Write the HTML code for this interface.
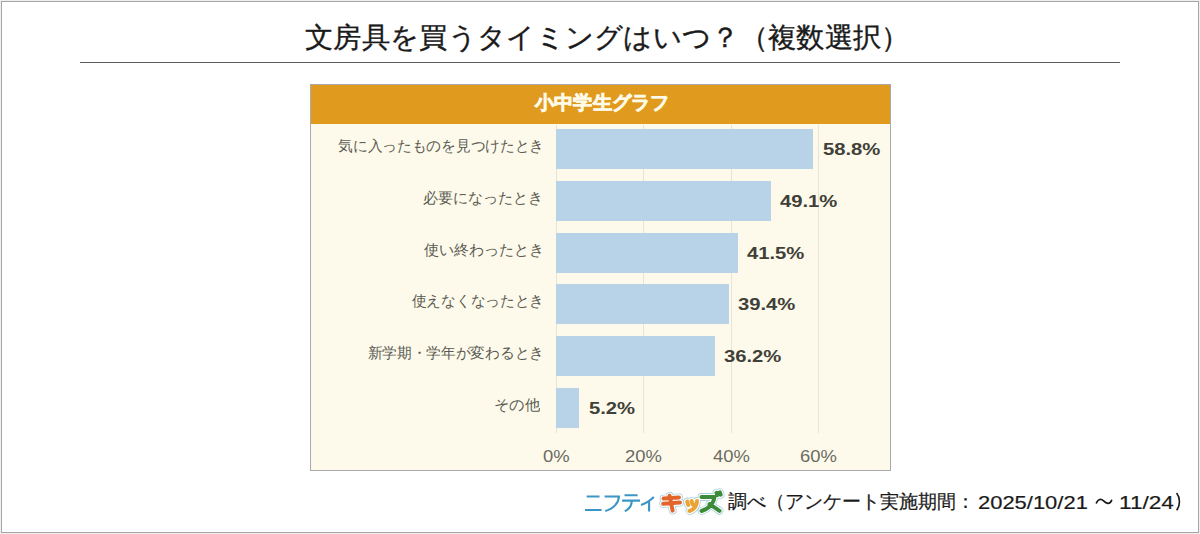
<!DOCTYPE html>
<html><head><meta charset="utf-8">
<style>
html,body{margin:0;padding:0;background:#efefef;}
body{width:1200px;height:534px;position:relative;overflow:hidden;font-family:"Liberation Sans",sans-serif;}
div,span{position:absolute;white-space:nowrap;}
.frame{left:1px;top:1px;width:1198px;height:532px;box-sizing:border-box;border:1px solid #a6a6a6;background:#fff;}
.title{left:305px;top:18px;font-size:28px;line-height:40px;color:#1a1a1a;-webkit-text-stroke:0.35px #1a1a1a;transform:scaleX(1.011);transform-origin:0 0;}
.hr{left:80px;top:62px;width:1040px;height:1px;background:#5c5c5c;}
.chart{left:310px;top:84px;width:581px;height:387px;box-sizing:border-box;border:1px solid #aaa;background:#fdfaeb;}
.head{left:311px;top:85px;width:579px;height:39px;background:#e09b1f;}
.htxt{left:535px;top:83px;color:#fffbea;font-weight:bold;font-size:19px;line-height:40px;-webkit-text-stroke:0.7px #fffbea;transform:scaleX(1.01);transform-origin:0 0;}
.grid{top:125px;width:1px;height:308px;background:#e6e3d7;}
.bar{left:556px;height:40px;background:#b8d2e8;}
.lab{right:661px;font-size:15px;line-height:20px;color:#5a5a52;transform:scaleX(0.98);transform-origin:100% 0;}
.val{font-size:17px;line-height:20px;font-weight:bold;color:#404038;transform:scaleX(1.19);transform-origin:0 0;}
.ax{top:447px;font-size:16px;line-height:20px;color:#6b6b63;transform:scaleX(1.15);transform-origin:0 0;}
.foot{font-size:19px;line-height:24px;color:#1a1a1a;-webkit-text-stroke:0.2px #1a1a1a;transform-origin:0 0;}
</style></head><body>
<div class="frame"></div>
<div class="title">文房具を買うタイミングはいつ？（複数選択）</div>
<div class="hr"></div>
<div class="chart"></div>
<div class="head"></div>
<div class="htxt">小中学生グラフ</div>
<div class="grid" style="left:556px"></div>
<div class="grid" style="left:643px"></div>
<div class="grid" style="left:731px"></div>
<div class="grid" style="left:818px"></div>
<div class="bar" style="top:129px;width:257px"></div>
<div class="bar" style="top:181px;width:215px"></div>
<div class="bar" style="top:233px;width:182px"></div>
<div class="bar" style="top:284px;width:173px"></div>
<div class="bar" style="top:336px;width:159px"></div>
<div class="bar" style="top:388px;width:23px"></div>
<div class="lab" style="top:136px;right:656px">気に入ったものを見つけたとき</div>
<div class="lab" style="top:188px;right:657px;transform:scaleX(1.0)">必要になったとき</div>
<div class="lab" style="top:240px;right:656px;transform:scaleX(1.0)">使い終わったとき</div>
<div class="lab" style="top:291px;right:656px">使えなくなったとき</div>
<div class="lab" style="top:343px;right:656px">新学期・学年が変わるとき</div>
<div class="lab" style="top:395px;right:660px;transform:scaleX(1.02)">その他</div>
<div class="val" style="top:140px;left:823px">58.8%</div>
<div class="val" style="top:192px;left:780px">49.1%</div>
<div class="val" style="top:244px;left:747px">41.5%</div>
<div class="val" style="top:295px;left:738px">39.4%</div>
<div class="val" style="top:347px;left:724px">36.2%</div>
<div class="val" style="top:399px;left:589px">5.2%</div>
<div class="ax" style="left:543px">0%</div>
<div class="ax" style="left:625px">20%</div>
<div class="ax" style="left:713px">40%</div>
<div class="ax" style="left:800px">60%</div>
<div class="foot" style="left:728px;top:490px">調べ（アンケート実施期間：</div>
<div class="foot" style="left:978px;top:491px;transform:scaleX(1.155)">2025/10/21</div>
<div class="foot" style="left:1094px;top:491px;color:transparent;-webkit-text-stroke:0">～</div>
<div class="foot" style="left:1119px;top:491px;transform:scaleX(1.19)">11/24</div>
<div class="foot" style="left:1172px;top:491px;color:transparent;-webkit-text-stroke:0">）</div>
<svg style="position:absolute;left:0;top:0" width="1200" height="534" viewBox="0 0 1200 534">
<path d="M1176.6,493 C1180.2,497.5 1180.6,505.5 1176.6,510.3" fill="none" stroke="#1a1a1a" stroke-width="1.6"/>
<path d="M1096.4,502.8 C1098.2,499.2 1100.8,498.3 1103.6,500.8 C1106.2,503.4 1109.8,505 1111.6,500.4" fill="none" stroke="#1a1a1a" stroke-width="1.7" stroke-linecap="round"/>
<g fill="none" stroke="#3b95c5" stroke-width="2.1" stroke-linecap="butt">
<path d="M586.7,496.5 H599.5 M585,510 H601.6"/>
<path d="M604.6,496.5 H619 C618.5,503.5 613,509 605.3,511"/>
<path d="M624.5,495.2 H637.6 M622.1,500.6 H640 M631.8,500.6 C631.5,506 629,509.5 624.8,511.3"/>
<path d="M653.8,497.1 C650,501 645.5,503.5 641,504.9 M649.1,501 V511.6"/>
</g>
<defs>
<g id="ki"><path d="M663.6,498.6 L679,497.4 M663.2,503.8 L680,502.6 M669.6,495.8 L672.6,510.6"/></g>
<g id="tsu"><path d="M687.2,501.6 L688.2,505 M691.6,501 L692.6,504.4 M697,501 C696.5,506 693.5,509.8 689.5,511"/></g>
<g id="zu"><path d="M701.5,497 H714.5 C713.5,503.5 708.5,508.8 701.5,511 M709.5,504 L719.5,510.8 M716.5,492.8 L717.3,495.2 M719.8,492.3 L720.6,494.7"/></g>
</defs>
<g fill="none" stroke-linecap="round" stroke-linejoin="round">
<g stroke="#a9d0dc" stroke-width="7.8"><use href="#ki"/><use href="#tsu"/><use href="#zu"/></g>
<g stroke="#ffffff" stroke-width="6.2"><use href="#ki"/><use href="#tsu"/><use href="#zu"/></g>
<g stroke="#e2662b" stroke-width="4"><use href="#ki"/></g>
<g stroke="#eba433" stroke-width="4"><use href="#tsu"/></g>
<g stroke="#3b8b3b" stroke-width="4"><use href="#zu"/></g>
</g>
</svg>
</body></html>
